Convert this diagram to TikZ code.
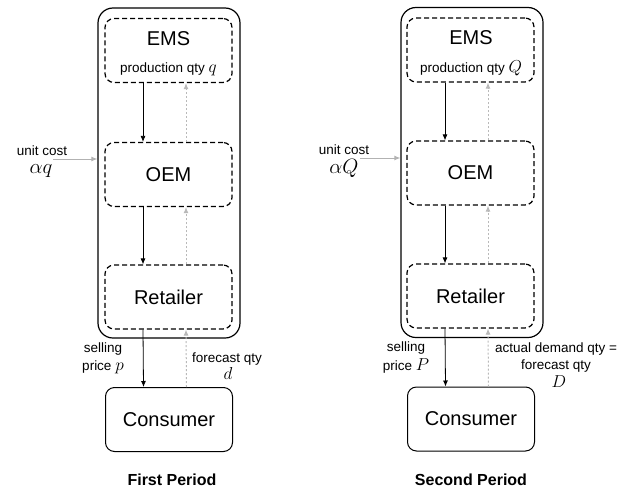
\documentclass[tikz,border=0pt]{standalone}
\usepackage{amsmath}
\usepackage{fontspec}
\setmainfont{Liberation Sans}
\usetikzlibrary{arrows.meta}

\newcommand{\mvar}[2]{{\fontsize{#1}{#1}\selectfont$#2$}}

\tikzset{
  firm/.style={draw, line width=1.2pt, rounded corners=15pt, minimum width=142pt, minimum height=330pt},
  agent/.style={draw, line width=1.2pt, dash pattern=on 5pt off 3pt, rounded corners=9pt,
    minimum width=127pt, minimum height=64pt, font=\fontsize{20}{24}\selectfont},
  buyer/.style={draw, line width=1pt, rounded corners=9pt, minimum width=127pt, minimum height=64pt,
    font=\fontsize{20}{24}\selectfont},
  big/.style={anchor=base, inner sep=0pt, font=\fontsize{20}{24}\selectfont},
  small/.style={anchor=base, inner sep=0pt, font=\fontsize{13.5}{16}\selectfont},
  title/.style={anchor=base, inner sep=0pt, font=\fontsize{16}{19}\selectfont\bfseries},
  flow/.style={line width=0.8pt, -{Latex[length=6pt,width=5pt]}},
  info/.style={draw=gray!55, line width=1pt, dash pattern=on 2pt off 2pt, -{Latex[length=6pt,width=5pt]}},
  cost/.style={draw=gray!60, line width=1pt, -{Latex[length=6pt,width=5pt]}}
}

\begin{document}
\begin{tikzpicture}[x=1pt, y=-1pt]
\useasboundingbox (0,0) rectangle (618,490);

% first period
\node[firm] (firm1) at (169,173) {};
\node[agent] (ems1) at (168.5,50.5) {};
\node[big] (emsl1) at (168.5,45) {EMS};
\node[small] (prod1) at (168.5,72) {production qty \mvar{17}{q}};
\node[agent] (oem1) at (168.5,174.5) {OEM};
\node[agent] (ret1) at (168.5,297) {Retailer};
\node[buyer] (con1) at (169,419.5) {Consumer};

\draw[flow] ([xshift=-25.5pt]ems1.south) -- ([xshift=-25.5pt]oem1.north);
\draw[info] ([xshift=17.5pt]oem1.north) -- ([xshift=17.5pt]ems1.south);
\draw[flow] ([xshift=-25.5pt]oem1.south) -- ([xshift=-25.5pt]ret1.north);
\draw[info] ([xshift=17.5pt]ret1.north) -- ([xshift=17.5pt]oem1.south);
\draw[flow] ([xshift=-25.5pt]ret1.south) -- ([xshift=-25.5pt]con1.north);
\draw[info] ([xshift=17.5pt]con1.north) -- ([xshift=17.5pt]ret1.south);

\coordinate (uc1) at (53,159);
\draw[cost] (uc1) -- (uc1 -| firm1.west);
\node[small] (ucl1) at (42,155) {unit cost};
\node[small] (ucv1) at (41,173) {\mvar{21}{\alpha q}};

\node[small] (sell1) at (103,352) {selling};
\node[small] (price1) at (103,370) {price \mvar{19}{p}};
\node[small] (fc1) at (227,362) {forecast qty};
\node[small] (fcv1) at (228,379) {\mvar{18}{d}};

\node[title] (per1) at (172,485) {First Period};

% second period
\node[firm] (firm2) at (472,172.5) {};
\node[agent] (ems2) at (470.5,50) {};
\node[big] (emsl2) at (471,44) {EMS};
\node[small] (prod2) at (471,72) {production qty \mvar{17}{Q}};
\node[agent] (oem2) at (470.5,173) {OEM};
\node[agent] (ret2) at (470.5,296) {Retailer};
\node[buyer] (con2) at (471,419) {Consumer};

\draw[flow] ([xshift=-25.5pt]ems2.south) -- ([xshift=-25.5pt]oem2.north);
\draw[info] ([xshift=17.5pt]oem2.north) -- ([xshift=17.5pt]ems2.south);
\draw[flow] ([xshift=-25.5pt]oem2.south) -- ([xshift=-25.5pt]ret2.north);
\draw[info] ([xshift=17.5pt]ret2.north) -- ([xshift=17.5pt]oem2.south);
\draw[flow] ([xshift=-25.5pt]ret2.south) -- ([xshift=-25.5pt]con2.north);
\draw[info] ([xshift=17.5pt]con2.north) -- ([xshift=17.5pt]ret2.south);

\coordinate (uc2) at (360,158);
\draw[cost] (uc2) -- (uc2 -| firm2.west);
\node[small] (ucl2) at (344,154) {unit cost};
\node[small] (ucv2) at (344,173) {\mvar{21}{\alpha Q}};

\node[small] (sell2) at (406,351) {selling};
\node[small] (price2) at (406,370) {price \mvar{19}{P}};
\node[small] (act2) at (556,352) {actual demand qty =};
\node[small] (fc2) at (556,369) {forecast qty};
\node[small] (fcv2) at (559,387) {\mvar{19}{D}};

\node[title] (per2) at (471,485) {Second Period};
\end{tikzpicture}
\end{document}
